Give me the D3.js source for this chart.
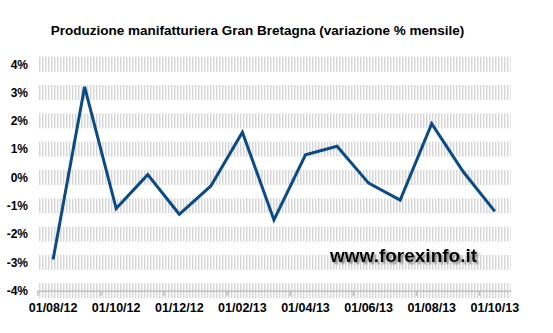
<!DOCTYPE html>
<html>
<head>
<meta charset="utf-8">
<script src="https://cdn.jsdelivr.net/npm/d3@7"></script>
<style>
  body { margin: 0; background: #fff; }
  svg { display: block; font-family: "Liberation Sans", Arial, sans-serif; }
</style>
</head>
<body>
<div id="container"></div>
<script>
/* CONSTANTS AND GLOBALS */
const width = 553,
      height = 333,
      margin = {top: 64.2, bottom: 42.3, left: 37.3, right: 42.4};

// data
const months = ["01/08/12","01/09/12","01/10/12","01/11/12","01/12/12",
                "01/01/13","01/02/13","01/03/13","01/04/13","01/05/13",
                "01/06/13","01/07/13","01/08/13","01/09/13","01/10/13"];
const values = [-2.9, 3.2, -1.1, 0.1, -1.3, -0.3, 1.6, -1.5, 0.8, 1.1, -0.2, -0.8, 1.9, 0.2, -1.2];
const yTicks = [-4, -3, -2, -1, 0, 1, 2, 3, 4];
const xTickLabels = ["01/08/12","01/10/12","01/12/12","01/02/13","01/04/13","01/06/13","01/08/13","01/10/13"];

const svg = d3.select("#container").append("svg")
    .attr("width", width)
    .attr("height", height);

// striped band pattern
const defs = svg.append("defs");
const pat = defs.append("pattern")
    .attr("id", "stripes")
    .attr("patternUnits", "userSpaceOnUse")
    .attr("width", 3).attr("height", 20);
pat.append("rect").attr("x", 0).attr("width", 1).attr("height", 20).attr("fill", "#d6d6d6");
pat.append("rect").attr("x", 1).attr("width", 1).attr("height", 20).attr("fill", "#ececec");

// + SCALES
const xScale = d3.scaleBand()
    .domain(months)
    .range([margin.left, width - margin.right]);

const xEdge = d3.scaleLinear()
    .domain([0, months.length])
    .range([margin.left, width - margin.right]);

const yScale = d3.scaleLinear()
    .domain([-4, 4])
    .range([height - margin.bottom, margin.top]);

// title
svg.append("text")
    .attr("x", 257.5)
    .attr("y", 35)
    .attr("text-anchor", "middle")
    .attr("font-size", "13.5px")
    .attr("font-weight", "bold")
    .text("Produzione manifatturiera Gran Bretagna (variazione % mensile)");

// gridline bands
svg.append("g")
  .selectAll("rect")
  .data(yTicks)
  .join("rect")
    .attr("x", 39)
    .attr("y", d => yScale(d) - 7.5)
    .attr("width", width - margin.right - 39)
    .attr("height", 15)
    .attr("fill", "url(#stripes)");

// + AXES
const yAxis = d3.axisLeft(yScale)
    .tickValues(yTicks)
    .tickSize(0)
    .tickFormat(d => d + "%");

svg.append("g")
    .attr("class", "yAxis")
    .attr("transform", `translate(${28},0)`)
    .call(yAxis)
    .call(g => g.select(".domain").remove())
    .call(g => g.selectAll("text")
        .attr("x", 0)
        .attr("font-size", "12px")
        .attr("font-weight", "bold")
        .attr("font-family", "Liberation Sans, Arial, sans-serif")
        .attr("fill", "#000"));

const xAxis = d3.axisBottom(xEdge)
    .tickValues(d3.range(0, months.length, 2))
    .tickSize(5)
    .tickSizeOuter(0)
    .tickFormat("");

svg.append("g")
    .attr("class", "xAxis")
    .attr("transform", `translate(0,${yScale(-4)})`)
    .call(xAxis)
    .call(g => g.select(".domain").attr("stroke", "#bfbfbf").attr("stroke-width", 1.5))
    .call(g => g.selectAll(".tick line").attr("stroke", "#bfbfbf").attr("stroke-width", 1.5));

svg.append("g")
  .selectAll("text")
  .data(xTickLabels)
  .join("text")
    .attr("x", d => xScale(d) + xScale.bandwidth() / 2)
    .attr("y", 312)
    .attr("text-anchor", "middle")
    .attr("font-size", "12.5px")
    .attr("font-weight", "bold")
    .text(d => d);

// watermark
const shadow = defs.append("filter").attr("id", "shadow")
    .attr("x", "-10%").attr("y", "-30%").attr("width", "130%").attr("height", "180%");
shadow.append("feDropShadow")
    .attr("dx", 2).attr("dy", 2)
    .attr("stdDeviation", 1)
    .attr("flood-color", "#777")
    .attr("flood-opacity", 0.9);

svg.append("text")
    .attr("x", 330)
    .attr("y", 262)
    .attr("font-size", "19px")
    .attr("font-weight", "bold")
    .attr("filter", "url(#shadow)")
    .text("www.forexinfo.it");

// line
const line = d3.line()
    .x((d, i) => xScale(months[i]) + xScale.bandwidth() / 2)
    .y(d => yScale(d));

svg.append("path")
    .datum(values)
    .attr("fill", "none")
    .attr("stroke", "#0a4b87")
    .attr("stroke-width", 3)
    .attr("d", line);
</script>
</body>
</html>
